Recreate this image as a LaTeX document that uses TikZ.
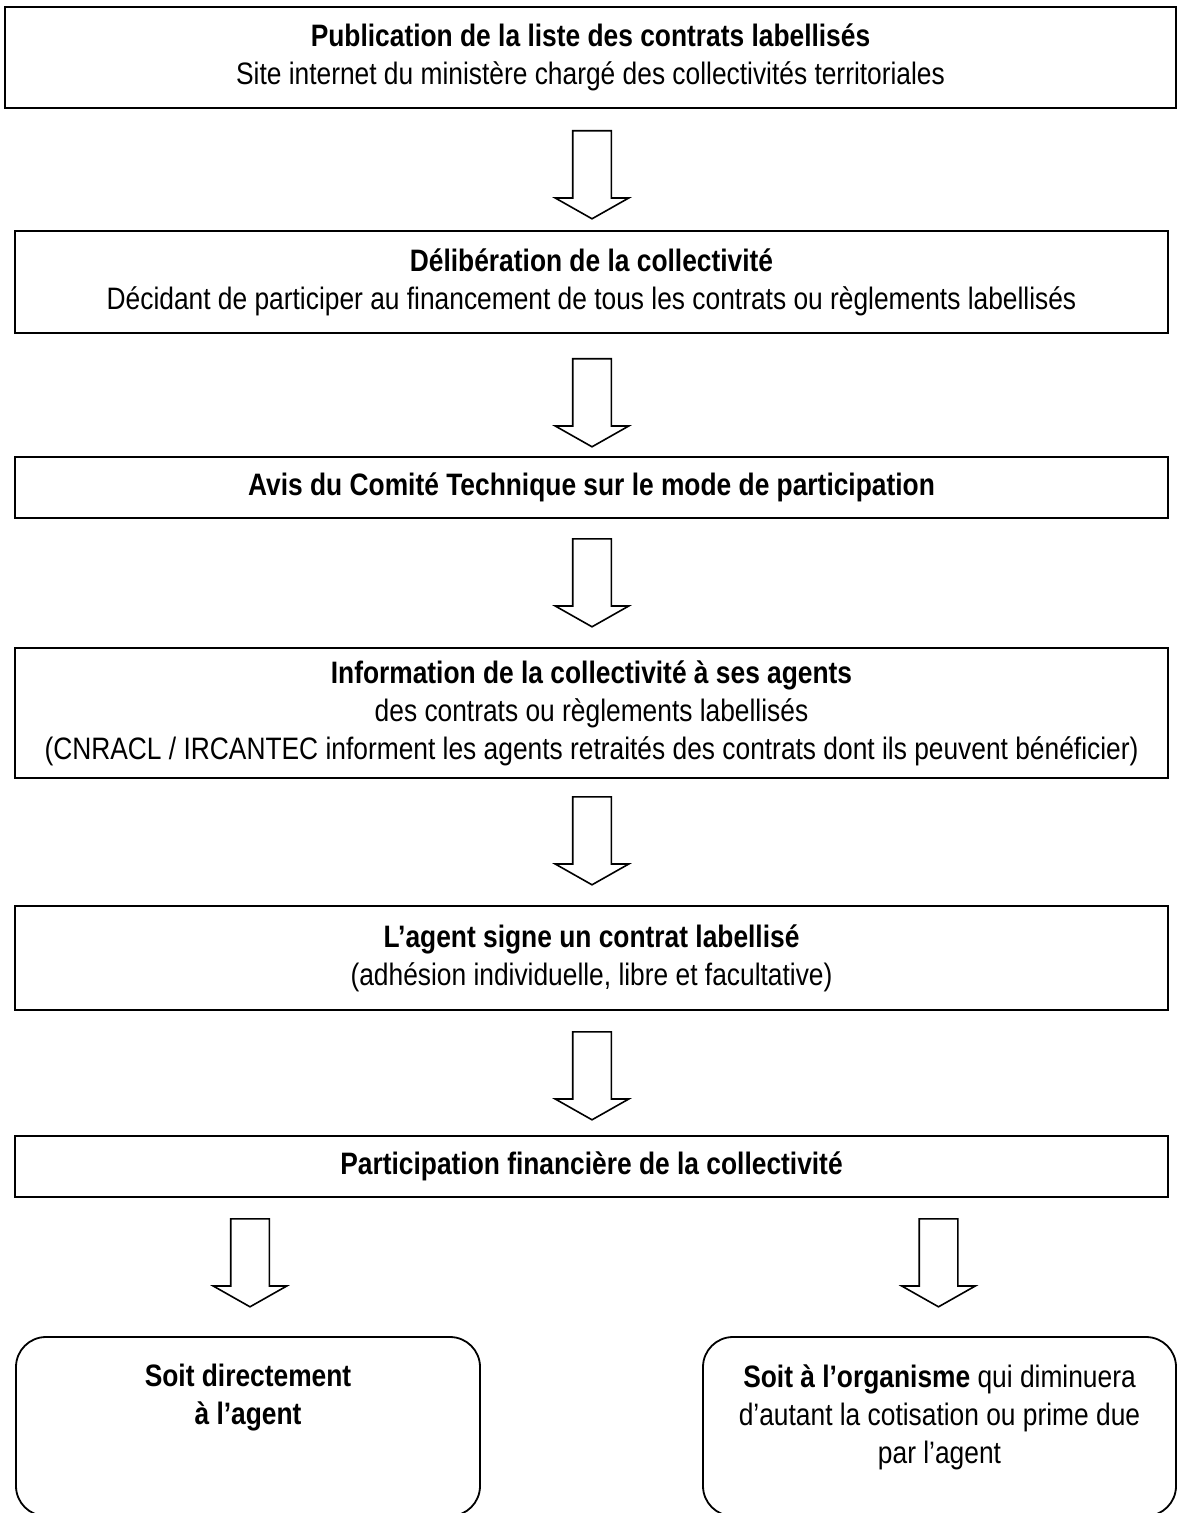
\documentclass[tikz,border=0pt]{standalone}
\usepackage{fontspec}
\setmainfont{Liberation Sans}[FakeStretch=0.85]
\usetikzlibrary{positioning,shapes.arrows}
\newcommand{\px}{0.5pt}
\tikzset{
  etape/.style={draw=black, line width=1pt, rectangle, align=center, inner sep=0pt},
  choix/.style={draw=black, line width=0.9pt, rectangle, rounded corners=15pt, inner sep=0pt},
  texte/.style={align=center, inner sep=0pt},
  fleche/.style={draw=black, line width=0.8pt, single arrow, rotate=-90, anchor=tail,
    inner xsep=0pt, inner ysep=18.5*\px, minimum height=88*\px,
    single arrow head extend=17.5*\px, single arrow tip angle=121}
}

\begin{document}
\begin{tikzpicture}[x=0.5pt, y=-0.5pt, font=\fontsize{15.5pt}{19pt}\selectfont]
  \useasboundingbox (0,0) rectangle (1177,1513);
  \clip (0,0) rectangle (1177,1513);
  \node[etape, minimum width=1171*\px, minimum height=101*\px] (publication) at (590.5,57.5)
    {\textbf{Publication de la liste des contrats labellisés}\\
     Site internet du ministère chargé des collectivités territoriales};
  \node[fleche] (f1) at (592,130) {};
  \node[etape, minimum width=1153*\px, minimum height=102*\px] (deliberation) at (591.5,282)
    {\textbf{Délibération de la collectivité}\\
     Décidant de participer au financement de tous les contrats ou règlements labellisés};
  \node[fleche] (f2) at (592,358) {};
  \node[etape, minimum width=1153*\px, minimum height=61*\px] (avis) at (591.5,487.5)
    {\textbf{Avis du Comité Technique sur le mode de participation}};
  \node[fleche] (f3) at (592,538) {};
  \node[etape, minimum width=1153*\px, minimum height=130*\px] (information) at (591.5,713)
    {\textbf{Information de la collectivité à ses agents}\\
     des contrats ou règlements labellisés\\
     (CNRACL / IRCANTEC informent les agents retraités des contrats dont ils peuvent bénéficier)};
  \node[fleche] (f4) at (592,796) {};
  \node[etape, minimum width=1153*\px, minimum height=104*\px] (signature) at (591.5,958)
    {\textbf{L’agent signe un contrat labellisé}\\
     (adhésion individuelle, libre et facultative)};
  \node[fleche] (f5) at (592,1031) {};
  \node[etape, minimum width=1153*\px, minimum height=61*\px] (participation) at (591.5,1166.5)
    {\textbf{Participation financière de la collectivité}};
  % les deux modes de versement
  \node[fleche] (fg) at (250,1218) {};
  \node[fleche] (fd) at (938.5,1218) {};
  \node[choix, minimum width=464*\px, minimum height=179*\px] (direct) at (248,1426.5) {};
  \node[choix, minimum width=473*\px, minimum height=179*\px] (organisme) at (939.5,1426.5) {};
  \node[texte, below=14pt of direct.north] (directtxt)
    {\textbf{Soit directement}\\ \textbf{à l’agent}};
  \node[texte, below=14pt of organisme.north] (organismetxt)
    {\textbf{Soit à l’organisme} qui diminuera\\
     d’autant la cotisation ou prime due\\
     par l’agent};
\end{tikzpicture}
\end{document}
